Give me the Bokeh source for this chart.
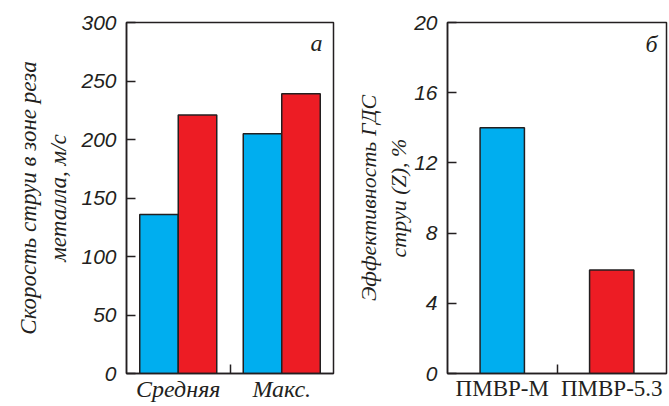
from bokeh.plotting import figure
from bokeh.layouts import row
from bokeh.models import FixedTicker, Range1d, Label, ColumnDataSource
from bokeh.embed import file_html
from bokeh.resources import INLINE

# ---- data ----
cats_a = ["Средняя", "Макс."]
blue_a = [136, 205]
red_a = [221, 239]
yticks_a = [0, 50, 100, 150, 200, 250, 300]

cats_b = ["ПМВР-М", "ПМВР-5.3"]
vals_b = [14.0, 5.9]
yticks_b = [0, 4, 8, 12, 16, 20]

BLUE = "#00aeef"
RED = "#ed1c24"
TXT = "#231f20"
SERIF = "Liberation Serif"
SANS = "Liberation Sans"


def base_fig(width, height, ymax, yticks, cats, ylabel, mb_left, mb_right,
             xlabel_style, xlabel_size, ylabel_size, ylabel_standoff):
    p = figure(width=width, height=height, output_backend="svg", toolbar_location=None,
               x_range=Range1d(0, len(cats)), y_range=Range1d(0, ymax),
               min_border_left=mb_left, min_border_right=mb_right,
               min_border_top=22, min_border_bottom=26)
    p.grid.visible = False
    p.outline_line_color = TXT
    p.outline_line_width = 1.5
    p.background_fill_color = "white"
    p.border_fill_color = "white"

    ya = p.yaxis[0]
    ya.ticker = FixedTicker(ticks=yticks)
    ya.major_tick_in = 9
    ya.major_tick_out = 0
    ya.minor_tick_in = 0
    ya.minor_tick_out = 0
    ya.axis_line_width = 1.5
    ya.axis_line_color = TXT
    ya.major_tick_line_width = 1.5
    ya.major_tick_line_color = TXT
    ya.major_label_text_font = SANS
    ya.major_label_text_font_style = "italic"
    ya.major_label_text_font_size = "21px"
    ya.major_label_text_color = TXT
    ya.major_label_standoff = 10
    ya.axis_label = ylabel
    ya.axis_label_text_font = SERIF
    ya.axis_label_text_font_style = "italic"
    ya.axis_label_text_font_size = ylabel_size
    ya.axis_label_text_color = TXT
    ya.axis_label_standoff = ylabel_standoff

    xa = p.xaxis[0]
    centers = [i + 0.5 for i in range(len(cats))]
    bounds = [i for i in range(1, len(cats))]
    xa.ticker = FixedTicker(ticks=centers, minor_ticks=bounds)
    xa.major_label_overrides = {c: name for c, name in zip(centers, cats)}
    xa.major_tick_in = 0
    xa.major_tick_out = 0
    xa.minor_tick_in = 9
    xa.minor_tick_out = 0
    xa.minor_tick_line_width = 1.5
    xa.minor_tick_line_color = TXT
    xa.axis_line_width = 1.5
    xa.axis_line_color = TXT
    xa.major_label_text_font = SERIF
    xa.major_label_text_font_style = xlabel_style
    xa.major_label_text_font_size = xlabel_size
    xa.major_label_text_color = TXT
    xa.major_label_standoff = 2
    return p


# ---- panel a ----
pa = base_fig(340, 404, 300, yticks_a, cats_a,
              "Скорость струи в зоне реза\nметалла, м/с", 126, 7, "italic", "24px",
              "23px", 7)
w = 0.372
src_a = ColumnDataSource(dict(
    xb=[i + 0.5 - w / 2 for i in range(len(cats_a))],
    xr=[i + 0.5 + w / 2 for i in range(len(cats_a))],
    blue=blue_a, red=red_a))
pa.vbar(x="xb", top="blue", width=w, bottom=0, source=src_a,
        fill_color=BLUE, line_color=TXT, line_width=1.5)
pa.vbar(x="xr", top="red", width=w, bottom=0, source=src_a,
        fill_color=RED, line_color=TXT, line_width=1.5)
pa.add_layout(Label(x=len(cats_a), y=300, x_offset=-11, y_offset=-20, text="а",
                    text_align="right", text_baseline="alphabetic",
                    text_font=SERIF, text_font_style="italic",
                    text_font_size="24px", text_color=TXT))

# ---- panel b ----
pb = base_fig(329, 404, 20, yticks_b, cats_b,
              "Эффективность ГДС\nструи (Z), %", 107, 3, "normal", "23px",
              "22px", 0)
wb = 0.405
src_b = ColumnDataSource(dict(x=[i + 0.5 for i in range(len(cats_b))], v=vals_b,
                              c=[BLUE, RED]))
pb.vbar(x="x", top="v", width=wb, bottom=0, source=src_b,
        fill_color="c", line_color=TXT, line_width=1.5)
pb.add_layout(Label(x=len(cats_b), y=20, x_offset=-9, y_offset=-21, text="б",
                    text_align="right", text_baseline="alphabetic",
                    text_font=SERIF, text_font_style="italic",
                    text_font_size="24px", text_color=TXT))

layout = row(pa, pb, spacing=0)
open("out.html", "w").write(file_html(layout, INLINE))
